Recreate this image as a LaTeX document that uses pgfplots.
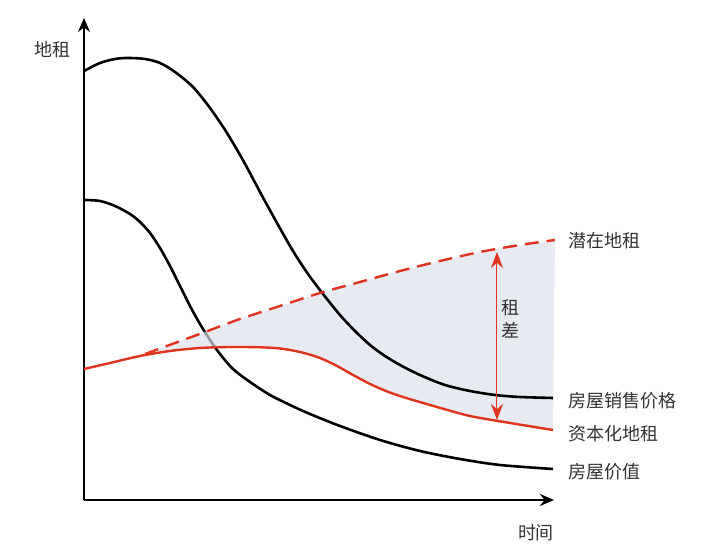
\documentclass[border=0pt]{standalone}
\usepackage{pgfplots}
\pgfplotsset{compat=1.18}
\usepgfplotslibrary{fillbetween}
\usetikzlibrary{arrows.meta}
\usepackage{fontspec}
\setmainfont{Noto Sans CJK SC}
\definecolor{cRed}{HTML}{E0341E}
\definecolor{cText}{HTML}{333333}
\definecolor{cFill}{HTML}{DCE0EA}

% x = pixel column, y = 550 - pixel row
\pgfplotstableread{
x y
84 479
100 487
115 491
128 492
145 491
160 487
175 478
193 463
210 442
227 417
244 388
260 358
277 327
293 299
308 276
323 256
340 235
355 219
370 205
385 194
400 185
420 175
445 165
470 159
495 155
520 153
553 152
}\sales
\pgfplotstableread{
x y
84 350
100 349
115 344
130 336
140 328
150 317
160 302
170 284
180 264
190 244
200 226
210 210
220 196
233 181
250 168
270 155
290 145
310 136
340 124
380 110
420 99
460 91
500 85
553 81
}\value
\pgfplotstableread{
x y
84 181
110 187
140 194
170 199
200 202
230 203
260 202.7
280 201.5
300 198
320 192
337 184
353 175
370 166
386 159
403 153
437 143
470 134
510 127
553 120
}\caprent
\pgfplotstableread{
x y
145 196
175 207
205 218
240 231
280 244
320 257
360 268
400 279
440 289
480 298
520 305
555 310
}\potrent

\begin{document}
\begin{tikzpicture}
\begin{axis}[
  scale only axis,
  width=360pt, height=275pt,
  xmin=0, xmax=720, ymin=0, ymax=550,
  hide axis, clip=false,
  set layers,
]
\path (axis cs:0,0) rectangle (axis cs:720,550);

% axes
\draw[line width=1.3pt, -{Stealth[length=7pt,width=6pt]}]
  (axis cs:84,50) -- (axis cs:84,532);
\draw[line width=1.3pt, -{Stealth[length=7pt,width=6pt]}]
  (axis cs:84,50) -- (axis cs:554,50);

\addplot[black, line width=1.3pt, smooth] table {\value};

\addplot[draw=none, name path=pot, forget plot] table {\potrent};
\addplot[draw=none, name path=cap, forget plot] table {\caprent};
\addplot[cFill, opacity=0.68] fill between[of=pot and cap,
  soft clip={domain=145:555}, on layer=main];

\addplot[black, line width=1.3pt, smooth] table {\sales};
\addplot[cRed, line width=1.2pt, smooth] table {\caprent};
\addplot[cRed, line width=1.2pt, smooth, dash pattern=on 7pt off 4pt] table {\potrent};

% rent gap arrow
\draw[cRed, line width=0.5pt,
  {Stealth[length=8pt,width=6pt]}-{Stealth[length=8pt,width=6pt]}]
  (axis cs:497,298) -- (axis cs:497,130);
\node[text=cText, font=\fontsize{9}{10.5}\selectfont, align=center]
  at (axis cs:511,231) {租\\[1pt]差};

% labels
\begin{scope}[every node/.style={text=cText, font=\fontsize{9}{10}\selectfont}]
\node[anchor=west] at (axis cs:561,309) {潜在地租};
\node[anchor=west] at (axis cs:561,149) {房屋销售价格};
\node[anchor=west] at (axis cs:561,116) {资本化地租};
\node[anchor=west] at (axis cs:561,78) {房屋价值};
\node at (axis cs:52,500) {地租};
\node at (axis cs:536,17) {时间};
\end{scope}
\end{axis}
\end{tikzpicture}
\end{document}
